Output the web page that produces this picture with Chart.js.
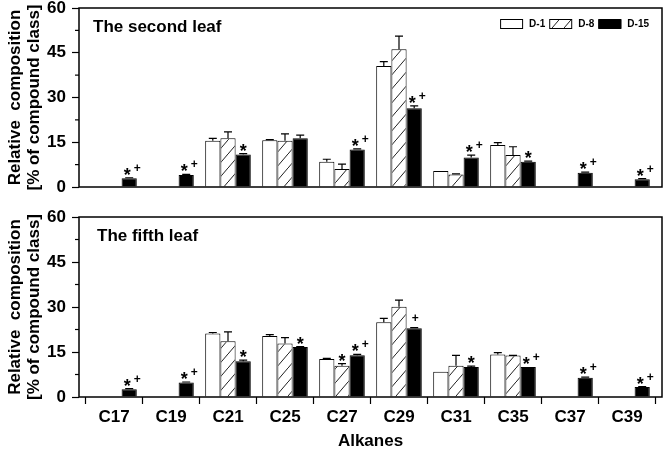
<!DOCTYPE html>
<html>
<head>
<meta charset="utf-8">
<script src="https://cdn.jsdelivr.net/npm/chart.js@4.4.0/dist/chart.umd.min.js"></script>
<style>
body { margin: 0; background: #fff; }
canvas { display: block; }
</style>
</head>
<body>
<canvas id="second-leaf" width="664" height="200"></canvas>
<canvas id="fifth-leaf" width="664" height="257"></canvas>
<script>
const alkanes = ["C17", "C19", "C21", "C25", "C27", "C29", "C31", "C35", "C37", "C39"];
const seriesNames = ["D-1", "D-8", "D-15"];
const yTicks = [0, 15, 30, 45, 60];

// The second leaf
const secondD1 = [null, null, 15.5, 15.7, 8.5, 40.6, 5.4, 14.1, null, null];
const secondD1Err = [0, 0, 0.8, 0.2, 0.8, 1.4, 0, 0.8, 0, 0];
const secondD8 = [null, null, 16.3, 15.5, 6.0, 46.2, 4.2, 10.7, null, null];
const secondD8Err = [0, 0, 2.2, 2.3, 1.7, 4.4, 0.2, 2.8, 0, 0];
const secondD15 = [2.9, 4.0, 10.9, 16.3, 12.6, 26.4, 9.9, 8.5, 4.8, 2.6];
const secondD15Err = [0.2, 0.2, 0.3, 1.1, 0.2, 0.8, 0.8, 0.2, 0.2, 0.2];
const secondD15Marks = ["*+", "*+", "*", "", "*+", "*+", "*+", "*", "*+", "*+"];

// The fifth leaf
const fifthD1 = [null, null, 21.2, 20.3, 12.7, 24.9, 8.4, 14.2, null, null];
const fifthD1Err = [0, 0, 0.3, 0.5, 0.2, 1.3, 0, 0.6, 0, 0];
const fifthD8 = [null, null, 18.6, 17.8, 10.4, 30.1, 10.4, 13.8, null, null];
const fifthD8Err = [0, 0, 3.1, 2.0, 0.7, 2.2, 3.5, 0.1, 0, 0];
const fifthD8Marks = ["", "", "", "", "*", "", "", "", "", ""];
const fifthD15 = [2.6, 4.8, 11.9, 16.7, 13.9, 22.9, 10.0, 10.0, 6.4, 3.3];
const fifthD15Err = [0.2, 0.2, 0.4, 0.1, 0.3, 0.2, 0.3, 0, 0.2, 0.2];
const fifthD15Marks = ["*+", "*+", "*", "*", "*+", "+", "*", "*+", "*+", "*+"];

const fontFamily = "'Liberation Sans', Arial, sans-serif";
Chart.defaults.font.family = fontFamily;
Chart.defaults.color = "#000";

// diagonal hatch for D-8
function makeHatch() {
    let c = document.createElement("canvas");
    c.width = 12;
    c.height = 14;
    let g = c.getContext("2d");
    g.fillStyle = "#fff";
    g.fillRect(0, 0, 12, 14);
    g.strokeStyle = "#222";
    g.lineWidth = 1;
    g.beginPath();
    g.moveTo(-1, 15.2);
    g.lineTo(13, -1.2);
    g.stroke();
    return g.createPattern(c, "repeat");
}
const hatch = makeHatch();

function points(values) {
    return values.map(function(v, i) { return { x: i, y: v }; });
}

function makeDatasets(d1, d1Err, d1Marks, d8, d8Err, d8Marks, d15, d15Err, d15Marks) {
    return [
        { label: seriesNames[0], data: points(d1), errors: d1Err, marks: d1Marks,
          backgroundColor: "#fff", borderColor: "#000", borderWidth: 1 },
        { label: seriesNames[1], data: points(d8), errors: d8Err, marks: d8Marks,
          backgroundColor: hatch, borderColor: "#000", borderWidth: 1 },
        { label: seriesNames[2], data: points(d15), errors: d15Err, marks: d15Marks,
          backgroundColor: "#000", borderColor: "#000", borderWidth: 1 }
    ];
}

const framePlugin = {
    id: "frame",
    afterDraw(chart) {
        const a = chart.chartArea;
        const ctx = chart.ctx;
        const y = chart.scales.y;
        const opts = chart.options.plugins.frame;
        ctx.save();
        ctx.strokeStyle = "#000";
        ctx.lineWidth = 1.5;
        ctx.strokeRect(a.left, a.top, a.right - a.left, a.bottom - a.top);
        // minor ticks on the y axis
        ctx.lineWidth = 1.2;
        for (let i = 0; i < yTicks.length - 1; i++) {
            const py = y.getPixelForValue((yTicks[i] + yTicks[i + 1]) / 2);
            ctx.beginPath();
            ctx.moveTo(a.left - 4, py);
            ctx.lineTo(a.left, py);
            ctx.stroke();
        }
        // panel title
        ctx.font = "bold 17px " + fontFamily;
        ctx.fillStyle = "#000";
        ctx.textBaseline = "alphabetic";
        ctx.fillText(opts.title, a.left + opts.titleX, a.top + 24);

        // legend inside the top right corner
        if (opts.legend) {
            ctx.font = "bold 10px " + fontFamily;
            ctx.textBaseline = "middle";
            ctx.lineWidth = 1;
            let x = a.right - 13;
            const items = chart.data.datasets.slice().reverse();
            const cy = a.top + 16;
            items.forEach(function(ds) {
                const w = ctx.measureText(ds.label).width;
                x -= w;
                ctx.fillStyle = "#000";
                ctx.fillText(ds.label, x, cy);
                x -= 6 + 23;
                ctx.fillStyle = ds.backgroundColor;
                ctx.fillRect(x, cy - 4.5, 23, 9);
                ctx.strokeRect(x + 0.5, cy - 4.5, 22, 9);
                x -= 4;
            });
        }
        ctx.restore();
    }
};

const errorPlugin = {
    id: "errorBars",
    afterDatasetsDraw(chart) {
        const ctx = chart.ctx;
        const y = chart.scales.y;
        ctx.save();
        ctx.strokeStyle = "#000";
        ctx.fillStyle = "#000";
        ctx.lineWidth = 1.2;
        chart.data.datasets.forEach(function(ds, i) {
            const meta = chart.getDatasetMeta(i);
            meta.data.forEach(function(bar, j) {
                const v = ds.data[j].y;
                if (v === null) return;
                const err = ds.errors[j];
                let top = bar.y;
                if (err > 0) {
                    top = y.getPixelForValue(v + err);
                    ctx.beginPath();
                    ctx.moveTo(bar.x, bar.y);
                    ctx.lineTo(bar.x, top);
                    ctx.moveTo(bar.x - 4, top);
                    ctx.lineTo(bar.x + 4, top);
                    ctx.stroke();
                }
                const mark = ds.marks ? ds.marks[j] : "";
                if (!mark) return;
                ctx.textAlign = "center";
                ctx.textBaseline = "alphabetic";
                const hasStar = mark.indexOf("*") >= 0;
                const hasPlus = mark.indexOf("+") >= 0;
                if (hasStar) {
                    ctx.font = "bold 18px " + fontFamily;
                    ctx.fillText("*", bar.x + (hasPlus ? -2 : 0), top + 3);
                }
                if (hasPlus) {
                    ctx.font = "bold 12px " + fontFamily;
                    ctx.fillText("+", bar.x + (hasStar ? 8 : 1), top - 6);
                }
            });
        });
        ctx.restore();
    }
};

function makeOptions(title, titleX, showX, showLegend) {
    return {
        responsive: false,
        animation: false,
        layout: { padding: { left: 0, right: 2, top: showX ? 17 : 8, bottom: showX ? 0 : 13 } },
        datasets: { bar: { categoryPercentage: 0.8, barPercentage: 1.0, grouped: true } },
        scales: {
            x: {
                type: "linear",
                display: showX,
                min: -0.614,
                max: 9.614,
                offset: false,
                afterBuildTicks: function(scale) {
                    scale.ticks = alkanes.map(function(c, i) { return { value: i }; });
                },
                afterFit: function(scale) {
                    scale.height = showX ? 60 : 0;
                    scale.paddingLeft = 0;
                    scale.paddingRight = 0;
                },
                ticks: {
                    font: { size: 17, weight: "bold" },
                    padding: 3,
                    maxRotation: 0,
                    autoSkip: false,
                    callback: function(value) { return alkanes[value]; }
                },
                grid: { display: true, drawOnChartArea: false, drawTicks: true, tickLength: 7, color: "#000", tickWidth: 1.2 },
                border: { display: false },
                title: { display: true, text: "Alkanes", font: { size: 17, weight: "bold" }, padding: { top: 0, bottom: 5 } }
            },
            y: {
                min: 0,
                max: 60,
                afterBuildTicks: function(scale) {
                    scale.ticks = yTicks.map(function(v) { return { value: v }; });
                },
                afterFit: function(scale) {
                    scale.width = 79;
                    scale.paddingTop = 0;
                    scale.paddingBottom = 0;
                },
                ticks: { font: { size: 17, weight: "bold" }, padding: 6 },
                grid: { display: true, drawOnChartArea: false, drawTicks: true, tickLength: 7, color: "#000", tickWidth: 1.2 },
                border: { display: false },
                title: {
                    display: true,
                    text: ["Relative  composition", "[% of compound class]"],
                    font: { size: 17, weight: "bold", lineHeight: 1.1 },
                    padding: { top: 6, bottom: 0 }
                }
            }
        },
        plugins: {
            frame: { title: title, titleX: titleX, legend: showLegend },
            tooltip: { enabled: false },
            legend: { display: false }
        }
    };
}

new Chart(document.getElementById("second-leaf").getContext("2d"), {
    type: "bar",
    data: {
        datasets: makeDatasets(secondD1, secondD1Err, null, secondD8, secondD8Err, null, secondD15, secondD15Err, secondD15Marks)
    },
    options: makeOptions("The second leaf", 14, false, true),
    plugins: [errorPlugin, framePlugin]
});

new Chart(document.getElementById("fifth-leaf").getContext("2d"), {
    type: "bar",
    data: {
        datasets: makeDatasets(fifthD1, fifthD1Err, null, fifthD8, fifthD8Err, fifthD8Marks, fifthD15, fifthD15Err, fifthD15Marks)
    },
    options: makeOptions("The fifth leaf", 18, true, false),
    plugins: [errorPlugin, framePlugin]
});
</script>
</body>
</html>
